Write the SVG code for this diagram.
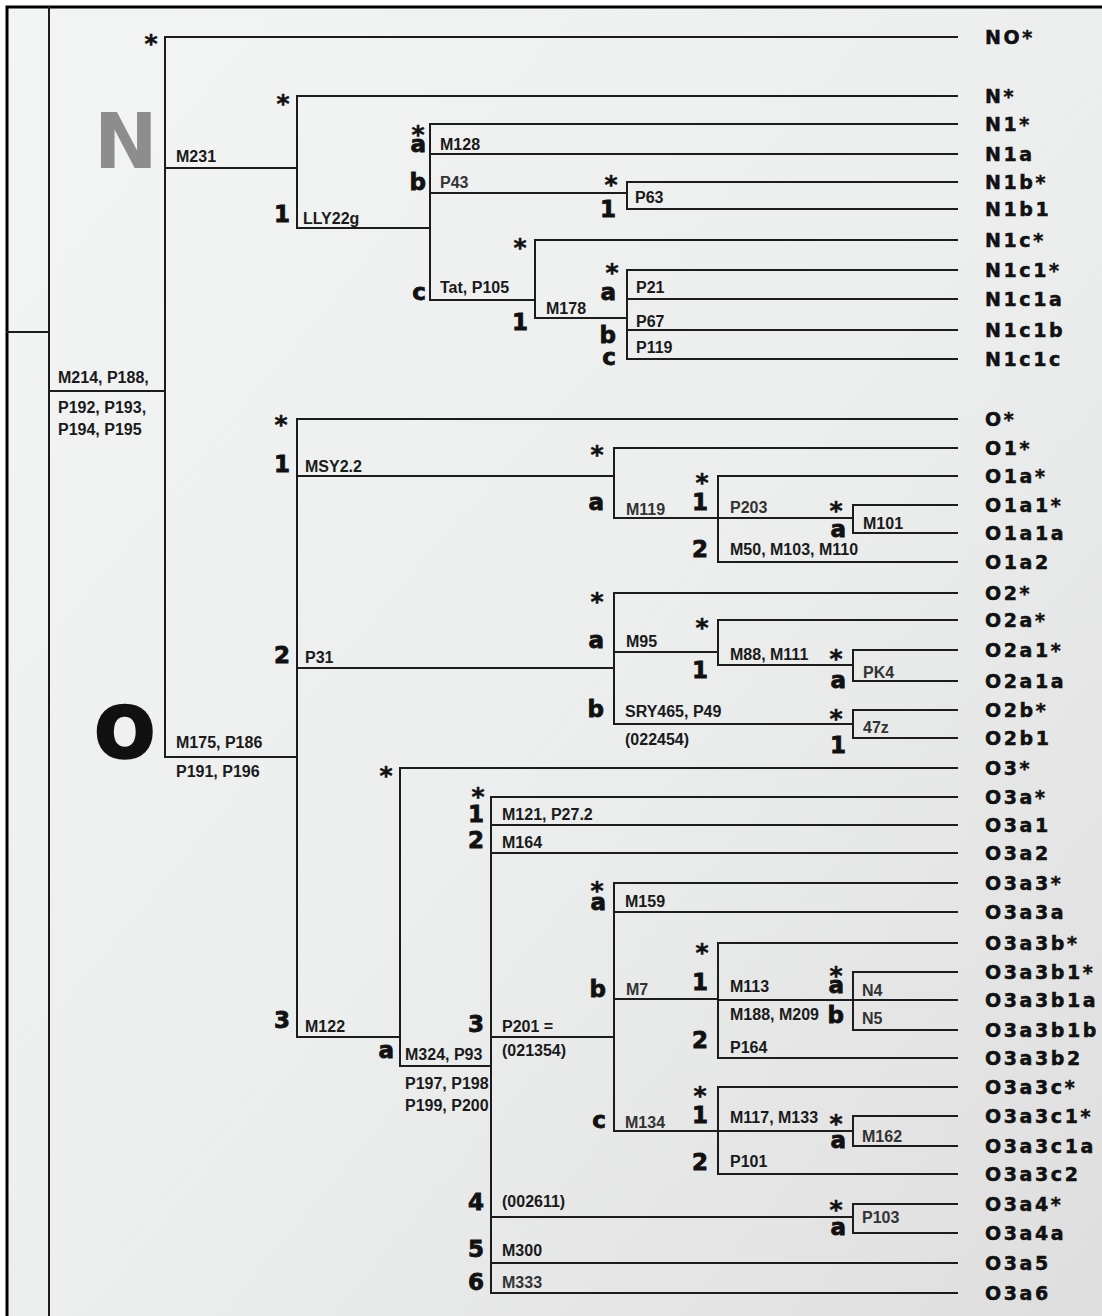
<svg xmlns="http://www.w3.org/2000/svg" width="1102" height="1316" viewBox="0 0 1102 1316">
<defs>
<linearGradient id="bg" x1="0" y1="0" x2="1" y2="1">
<stop offset="0" stop-color="#f3f4f4"/>
<stop offset="0.55" stop-color="#eceded"/>
<stop offset="1" stop-color="#dedede"/>
</linearGradient>
<style>
.ln{stroke:#1c1c1c;stroke-width:2;fill:none;stroke-linecap:square}
.fr{stroke:#000;stroke-width:3;fill:none}
.tip{font-family:"DejaVu Sans",sans-serif;font-weight:bold;font-size:19px;letter-spacing:2.6px;fill:#111;stroke:#111;stroke-width:0.5}
.mk{font-family:"Liberation Sans",Arial,sans-serif;font-weight:bold;font-size:16px;fill:#1a1a1a}
.lt{font-family:"Liberation Sans",Arial,sans-serif;font-weight:bold;font-size:16px;fill:#333333}
.bl{font-family:"DejaVu Sans",sans-serif;font-weight:bold;font-size:23px;fill:#111;stroke:#111;stroke-width:0.8;text-anchor:end}
.st{font-family:"DejaVu Sans",sans-serif;font-weight:bold;font-size:25px;fill:#111;stroke:#111;stroke-width:0.5;text-anchor:middle}
.big{font-family:"DejaVu Sans",sans-serif;font-weight:bold}
</style>
</defs>
<rect x="0" y="0" width="1102" height="1316" fill="#ffffff"/>
<rect x="7" y="7" width="1095" height="1309" fill="url(#bg)"/>
<path class="fr" d="M7,1316 V7 H1102"/>

<g id="connectors">
<path class="ln" d="M49,7 V1316 M7,332 H49"/>
<path class="ln" d="M49,391 H165 M165,37 V757 M165,37 H957 M165,168 H297 M165,757 H297"/>
<path class="ln" d="M297,96 V228 M297,96 H957 M297,228 H430"/>
<path class="ln" d="M430,124 V300 M430,124 H957 M430,154 H957 M430,193 H627 M430,300 H535"/>
<path class="ln" d="M627,182 V209 M627,182 H957 M627,209 H957"/>
<path class="ln" d="M535,240 V318 M535,240 H957 M535,318 H627"/>
<path class="ln" d="M627,270 V359 M627,270 H957 M627,299 H957 M627,330 H957 M627,359 H957"/>
<path class="ln" d="M297,419 V1037 M297,419 H957 M297,476 H614 M297,668 H614 M297,1037 H400"/>
<path class="ln" d="M614,448 V518 M614,448 H957 M614,518 H718"/>
<path class="ln" d="M718,476 V562 M718,476 H957 M718,518 H853 M718,562 H957"/>
<path class="ln" d="M853,505 V533 M853,505 H957 M853,533 H957"/>
<path class="ln" d="M614,593 V724 M614,593 H957 M614,652 H718 M614,724 H853"/>
<path class="ln" d="M718,620 V665 M718,620 H957 M718,665 H853"/>
<path class="ln" d="M853,650 V681 M853,650 H957 M853,681 H957"/>
<path class="ln" d="M853,710 V738 M853,710 H957 M853,738 H957"/>
<path class="ln" d="M400,768 V1066 M400,768 H957 M400,1066 H491"/>
<path class="ln" d="M491,797 V1293 M491,797 H957 M491,825 H957 M491,853 H957 M491,1037 H614 M491,1217 H853 M491,1263 H957 M491,1293 H957"/>
<path class="ln" d="M614,883 V1131 M614,883 H957 M614,912 H957 M614,999 H718 M614,1131 H718"/>
<path class="ln" d="M718,943 V1058 M718,943 H957 M718,1000 H853 M718,1058 H957"/>
<path class="ln" d="M853,972 V1030 M853,972 H957 M853,1000 H957 M853,1030 H957"/>
<path class="ln" d="M718,1087 V1174 M718,1087 H957 M718,1131 H853 M718,1174 H957"/>
<path class="ln" d="M853,1116 V1146 M853,1116 H957 M853,1146 H957"/>
<path class="ln" d="M853,1204 V1233 M853,1204 H957 M853,1233 H957"/>
</g>

<g id="node-root">
<text class="mk" x="58" y="383">M214, P188,</text>
<text class="mk" x="58" y="413">P192, P193,</text>
<text class="mk" x="58" y="435">P194, P195</text>
<text class="st" x="151" y="52">*</text>
</g>

<g id="node-N">
<text class="big" x="94" y="168" font-size="76" fill="#8d8d8d">N</text>
<text class="mk" x="176" y="162">M231</text>
<text class="st" x="283" y="112">*</text>
</g>
<g id="node-N1">
<text class="bl" x="290" y="222">1</text>
<text class="mk" x="303" y="224">LLY22g</text>
<text class="st" x="418" y="143">*</text>
<text class="bl" x="426" y="152">a</text>
<text class="mk" x="440" y="150">M128</text>
<text class="bl" x="426" y="190">b</text>
<text class="lt" x="440" y="188">P43</text>
<text class="bl" x="426" y="300">c</text>
<text class="mk" x="440" y="293">Tat, P105</text>
</g>
<g id="node-N1b">
<text class="st" x="611" y="193">*</text>
<text class="bl" x="616" y="217">1</text>
<text class="mk" x="635" y="203">P63</text>
</g>
<g id="node-N1c">
<text class="st" x="520" y="256">*</text>
<text class="bl" x="528" y="330">1</text>
<text class="mk" x="546" y="314">M178</text>
</g>
<g id="node-N1c1">
<text class="st" x="612" y="281">*</text>
<text class="bl" x="616" y="300">a</text>
<text class="mk" x="636" y="293">P21</text>
<text class="bl" x="616" y="343">b</text>
<text class="mk" x="636" y="327">P67</text>
<text class="bl" x="616" y="365">c</text>
<text class="mk" x="636" y="353">P119</text>
</g>

<g id="node-O">
<text class="big" x="95" y="757" font-size="70" fill="#111" stroke="#111" stroke-width="3.5">O</text>
<text class="mk" x="176" y="748">M175, P186</text>
<text class="mk" x="176" y="777">P191, P196</text>
<text class="st" x="281" y="433">*</text>
</g>
<g id="node-O1">
<text class="bl" x="290" y="472">1</text>
<text class="mk" x="305" y="472">MSY2.2</text>
<text class="st" x="597" y="463">*</text>
<text class="bl" x="604" y="510">a</text>
<text class="lt" x="626" y="515">M119</text>
</g>
<g id="node-O1a">
<text class="st" x="702" y="491">*</text>
<text class="bl" x="708" y="510">1</text>
<text class="lt" x="730" y="513">P203</text>
<text class="bl" x="708" y="557">2</text>
<text class="mk" x="730" y="555">M50, M103, M110</text>
</g>
<g id="node-O1a1">
<text class="st" x="836" y="519">*</text>
<text class="bl" x="846" y="537">a</text>
<text class="mk" x="863" y="529">M101</text>
</g>
<g id="node-O2">
<text class="bl" x="290" y="663">2</text>
<text class="mk" x="305" y="663">P31</text>
<text class="st" x="597" y="610">*</text>
<text class="bl" x="604" y="648">a</text>
<text class="mk" x="626" y="647">M95</text>
<text class="bl" x="604" y="717">b</text>
<text class="mk" x="625" y="717">SRY465, P49</text>
<text class="mk" x="625" y="745">(022454)</text>
</g>
<g id="node-O2a">
<text class="st" x="702" y="636">*</text>
<text class="bl" x="708" y="678">1</text>
<text class="mk" x="730" y="660">M88, M111</text>
</g>
<g id="node-O2a1">
<text class="st" x="836" y="667">*</text>
<text class="bl" x="846" y="688">a</text>
<text class="lt" x="863" y="678">PK4</text>
</g>
<g id="node-O2b">
<text class="st" x="836" y="727">*</text>
<text class="bl" x="846" y="753">1</text>
<text class="lt" x="863" y="733">47z</text>
</g>
<g id="node-O3">
<text class="bl" x="290" y="1028">3</text>
<text class="mk" x="305" y="1032">M122</text>
<text class="st" x="386" y="784">*</text>
<text class="bl" x="394" y="1058">a</text>
<text class="mk" x="405" y="1060">M324, P93</text>
<text class="mk" x="405" y="1089">P197, P198</text>
<text class="mk" x="405" y="1111">P199, P200</text>
</g>
<g id="node-O3a">
<text class="st" x="478" y="805">*</text>
<text class="bl" x="484" y="822">1</text>
<text class="mk" x="502" y="820">M121, P27.2</text>
<text class="bl" x="484" y="848">2</text>
<text class="mk" x="502" y="848">M164</text>
<text class="bl" x="484" y="1032">3</text>
<text class="mk" x="502" y="1032">P201 =</text>
<text class="mk" x="502" y="1056">(021354)</text>
<text class="bl" x="484" y="1210">4</text>
<text class="mk" x="502" y="1207">(002611)</text>
<text class="bl" x="484" y="1257">5</text>
<text class="mk" x="502" y="1256">M300</text>
<text class="bl" x="484" y="1290">6</text>
<text class="lt" x="502" y="1288">M333</text>
</g>
<g id="node-O3a3">
<text class="st" x="597" y="899">*</text>
<text class="bl" x="606" y="910">a</text>
<text class="mk" x="625" y="907">M159</text>
<text class="bl" x="606" y="997">b</text>
<text class="lt" x="626" y="995">M7</text>
<text class="bl" x="606" y="1128">c</text>
<text class="lt" x="625" y="1128">M134</text>
</g>
<g id="node-O3a3b">
<text class="st" x="702" y="961">*</text>
<text class="bl" x="708" y="990">1</text>
<text class="mk" x="730" y="992">M113</text>
<text class="mk" x="730" y="1020">M188, M209</text>
<text class="bl" x="708" y="1048">2</text>
<text class="mk" x="730" y="1053">P164</text>
</g>
<g id="node-O3a3b1">
<text class="st" x="836" y="984">*</text>
<text class="bl" x="844" y="993">a</text>
<text class="lt" x="862" y="996">N4</text>
<text class="bl" x="844" y="1023">b</text>
<text class="lt" x="862" y="1024">N5</text>
</g>
<g id="node-O3a3c">
<text class="st" x="700" y="1104">*</text>
<text class="bl" x="708" y="1123">1</text>
<text class="mk" x="730" y="1123">M117, M133</text>
<text class="bl" x="708" y="1170">2</text>
<text class="mk" x="730" y="1167">P101</text>
</g>
<g id="node-O3a3c1">
<text class="st" x="836" y="1132">*</text>
<text class="bl" x="846" y="1148">a</text>
<text class="lt" x="862" y="1142">M162</text>
</g>
<g id="node-O3a4">
<text class="st" x="836" y="1218">*</text>
<text class="bl" x="846" y="1235">a</text>
<text class="lt" x="862" y="1223">P103</text>
</g>

<g id="tips">
<g id="tip-NO"><text class="tip" x="985" y="44">NO*</text></g>
<g id="tip-N"><text class="tip" x="985" y="103">N*</text></g>
<g id="tip-N1"><text class="tip" x="985" y="131">N1*</text></g>
<g id="tip-N1a"><text class="tip" x="985" y="161">N1a</text></g>
<g id="tip-N1b"><text class="tip" x="985" y="189">N1b*</text></g>
<g id="tip-N1b1"><text class="tip" x="985" y="216">N1b1</text></g>
<g id="tip-N1c"><text class="tip" x="985" y="247">N1c*</text></g>
<g id="tip-N1c1"><text class="tip" x="985" y="277">N1c1*</text></g>
<g id="tip-N1c1a"><text class="tip" x="985" y="306">N1c1a</text></g>
<g id="tip-N1c1b"><text class="tip" x="985" y="337">N1c1b</text></g>
<g id="tip-N1c1c"><text class="tip" x="985" y="366">N1c1c</text></g>
<g id="tip-O"><text class="tip" x="985" y="426">O*</text></g>
<g id="tip-O1"><text class="tip" x="985" y="455">O1*</text></g>
<g id="tip-O1a"><text class="tip" x="985" y="483">O1a*</text></g>
<g id="tip-O1a1"><text class="tip" x="985" y="512">O1a1*</text></g>
<g id="tip-O1a1a"><text class="tip" x="985" y="540">O1a1a</text></g>
<g id="tip-O1a2"><text class="tip" x="985" y="569">O1a2</text></g>
<g id="tip-O2"><text class="tip" x="985" y="600">O2*</text></g>
<g id="tip-O2a"><text class="tip" x="985" y="627">O2a*</text></g>
<g id="tip-O2a1"><text class="tip" x="985" y="657">O2a1*</text></g>
<g id="tip-O2a1a"><text class="tip" x="985" y="688">O2a1a</text></g>
<g id="tip-O2b"><text class="tip" x="985" y="717">O2b*</text></g>
<g id="tip-O2b1"><text class="tip" x="985" y="745">O2b1</text></g>
<g id="tip-O3"><text class="tip" x="985" y="775">O3*</text></g>
<g id="tip-O3a"><text class="tip" x="985" y="804">O3a*</text></g>
<g id="tip-O3a1"><text class="tip" x="985" y="832">O3a1</text></g>
<g id="tip-O3a2"><text class="tip" x="985" y="860">O3a2</text></g>
<g id="tip-O3a3"><text class="tip" x="985" y="890">O3a3*</text></g>
<g id="tip-O3a3a"><text class="tip" x="985" y="919">O3a3a</text></g>
<g id="tip-O3a3b"><text class="tip" x="985" y="950">O3a3b*</text></g>
<g id="tip-O3a3b1"><text class="tip" x="985" y="979">O3a3b1*</text></g>
<g id="tip-O3a3b1a"><text class="tip" x="985" y="1007">O3a3b1a</text></g>
<g id="tip-O3a3b1b"><text class="tip" x="985" y="1037">O3a3b1b</text></g>
<g id="tip-O3a3b2"><text class="tip" x="985" y="1065">O3a3b2</text></g>
<g id="tip-O3a3c"><text class="tip" x="985" y="1094">O3a3c*</text></g>
<g id="tip-O3a3c1"><text class="tip" x="985" y="1123">O3a3c1*</text></g>
<g id="tip-O3a3c1a"><text class="tip" x="985" y="1153">O3a3c1a</text></g>
<g id="tip-O3a3c2"><text class="tip" x="985" y="1181">O3a3c2</text></g>
<g id="tip-O3a4"><text class="tip" x="985" y="1211">O3a4*</text></g>
<g id="tip-O3a4a"><text class="tip" x="985" y="1240">O3a4a</text></g>
<g id="tip-O3a5"><text class="tip" x="985" y="1270">O3a5</text></g>
<g id="tip-O3a6"><text class="tip" x="985" y="1300">O3a6</text></g>
</g>
</svg>
